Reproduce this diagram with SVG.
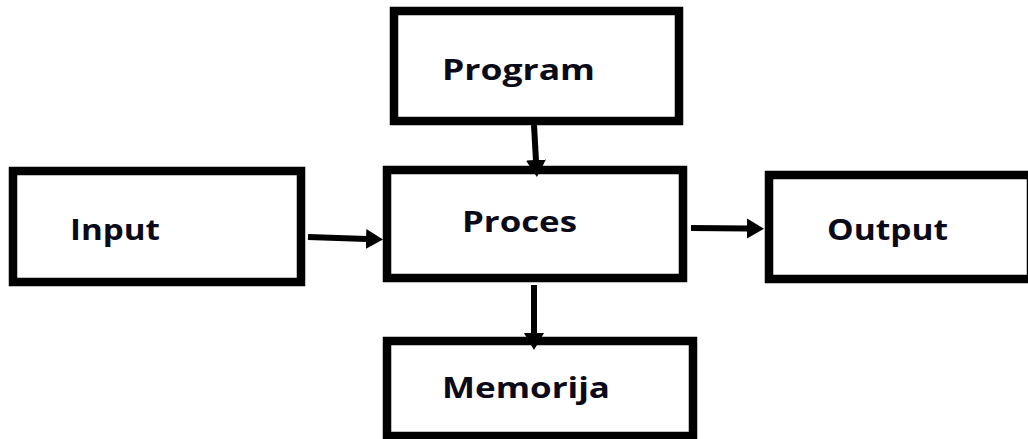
<svg xmlns="http://www.w3.org/2000/svg" width="1028" height="439" viewBox="0 0 1028 439">
<style>
.box{fill:#fff;stroke:#000;stroke-width:8.5}
.lbl{font-family:"Open Sans","Liberation Sans",sans-serif;font-weight:700;font-size:28px;fill:#0a0a18}
.edge{stroke:#000;stroke-width:6;fill:none}
</style>
<defs>
<marker id="ah" markerUnits="userSpaceOnUse" markerWidth="18" markerHeight="22" refX="1" refY="10" orient="auto" viewBox="0 0 18 20">
<path d="M0,0 L17,10 L0,20 z" fill="#000"/>
</marker>
</defs>
<rect width="1028" height="439" fill="#fff"/>
<g id="program">
<rect class="box" x="394" y="11" width="285" height="110"/>
<text class="lbl" x="442" y="80" textLength="153" lengthAdjust="spacingAndGlyphs">Program</text>
</g>
<g id="input">
<rect class="box" x="13" y="171" width="288" height="111"/>
<text class="lbl" x="70" y="240" textLength="90" lengthAdjust="spacingAndGlyphs">Input</text>
</g>
<g id="proces">
<rect class="box" x="387" y="170" width="296" height="108"/>
<text class="lbl" x="462" y="232" textLength="115" lengthAdjust="spacingAndGlyphs">Proces</text>
</g>
<g id="output">
<rect class="box" x="769" y="175" width="262" height="104"/>
<text class="lbl" x="827" y="240" textLength="121" lengthAdjust="spacingAndGlyphs">Output</text>
</g>
<g id="memorija">
<rect class="box" x="387" y="341" width="306" height="95"/>
<text class="lbl" x="442" y="398" textLength="168" lengthAdjust="spacingAndGlyphs">Memorija</text>
</g>
<g id="connectors">
<line class="edge" x1="534" y1="125" x2="536" y2="161" marker-end="url(#ah)"/>
<line class="edge" x1="308" y1="237" x2="367" y2="239" marker-end="url(#ah)"/>
<line class="edge" x1="691" y1="228" x2="748" y2="228.5" marker-end="url(#ah)"/>
<line class="edge" x1="534" y1="285" x2="534" y2="334" marker-end="url(#ah)"/>
</g>
</svg>
